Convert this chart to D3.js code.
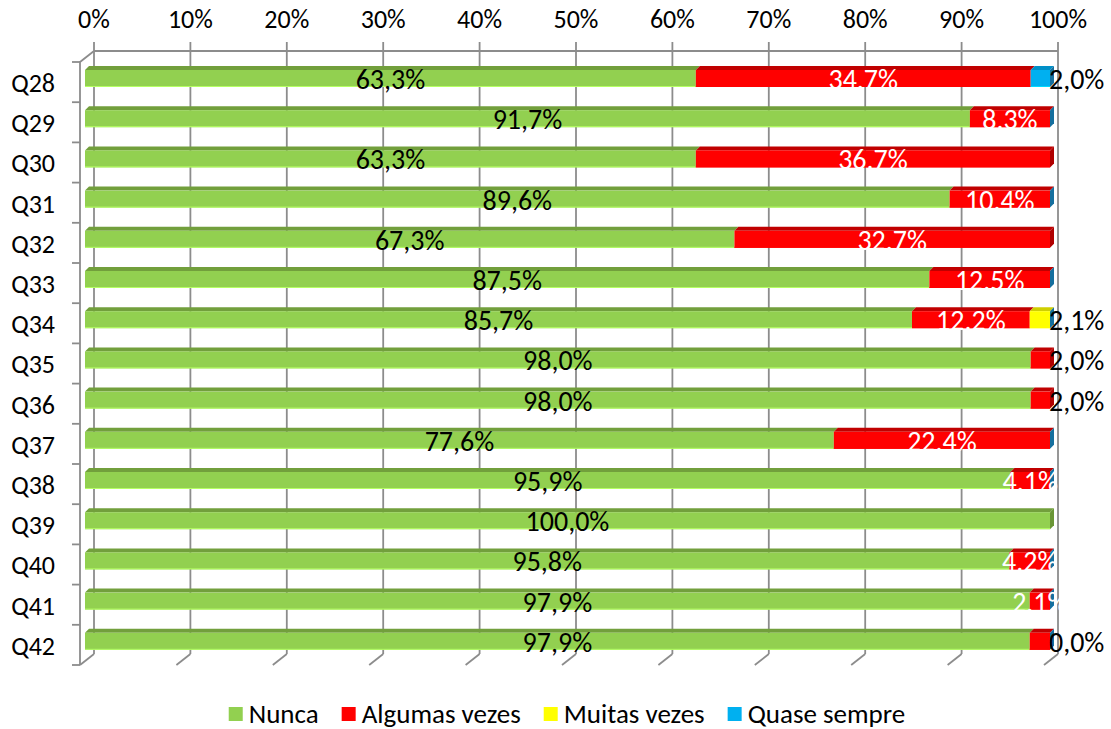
<!DOCTYPE html>
<html>
<head>
<meta charset="utf-8">
<script src="https://cdn.jsdelivr.net/npm/d3@7"></script>
<style>
  body { margin: 0; background: #fff; }
  text { font-family: Carlito, Calibri, Lato, sans-serif; }
</style>
</head>
<body>
<div id="chart"></div>
<script>
// data (percent of answers)
let categories = ["Q28", "Q29", "Q30", "Q31", "Q32", "Q33", "Q34", "Q35", "Q36", "Q37", "Q38", "Q39", "Q40", "Q41", "Q42"];
let seriesNames = ["Nunca", "Algumas vezes", "Muitas vezes", "Quase sempre"];
let nunca   = [63.3, 91.7, 63.3, 89.6, 67.3, 87.5, 85.7, 98.0, 98.0, 77.6, 95.9, 100.0, 95.8, 97.9, 97.9];
let algumas = [34.7, 8.3, 36.7, 10.4, 32.7, 12.5, 12.2, 2.0, 2.0, 22.4, 4.1, null, 4.2, 2.1, 2.1];
let muitas  = [null, null, null, null, null, null, 2.1, null, null, null, null, null, null, null, null];
let quase   = [2.0, 0, null, 0, null, 0, 0, null, null, 0, 0, null, 0, 0, 0];
let tickValues = [0, 10, 20, 30, 40, 50, 60, 70, 80, 90, 100];
// labels that Excel put beside the bar end, and the one it left out
let outsideLabels = [["Q28", 3], ["Q34", 2], ["Q35", 1], ["Q36", 1], ["Q42", 3]];
let hiddenLabels = [["Q42", 1]];

let svgWidth = 1111;
let svgHeight = 729;

let colors = ["#92D050", "#FF0000", "#FFFF00", "#00B0F0"];
let topColors = ["#729F3C", "#C00000", "#CFCF00", "#0090C8"];
let sideColors = ["#6A9636", "#B00000", "#BFBF00", "#156F9E"];
let labelColors = ["#000", "#fff", "#000", "#000"];

let depth = { dx: 14, dy: 11 };   // back wall offset
let barDepth = { dx: 4, dy: 4 };

let svg = d3.select("#chart")
    .append("svg")
    .attr("width", svgWidth)
    .attr("height", svgHeight);

// front plane scale; back wall is shifted by depth
let xScale = d3.scaleLinear().domain([0, 100]).range([80, 1044]);
// bar front faces sit a little inside the box
let xBar = d3.scaleLinear().domain([0, 100]).range([85, 1050]);
let yScale = d3.scaleBand().domain(categories).range([62, 665]);

let fmt = v => d3.format(".1f")(v).replace(".", ",") + "%";

// ---- walls and gridlines
let grid = svg.append("g")
    .attr("stroke", "#8c8c8c")
    .attr("stroke-width", 1.8)
    .attr("fill", "none");

let backTop = yScale.range()[0] - depth.dy;
let backBottom = yScale.range()[1] - depth.dy;

grid.append("line")
    .attr("x1", xScale(0) + depth.dx).attr("x2", xScale(100) + depth.dx)
    .attr("y1", backTop).attr("y2", backTop);

tickValues.forEach(t => {
    let xb = xScale(t) + depth.dx;
    grid.append("line")
        .attr("x1", xb).attr("x2", xb)
        .attr("y1", backTop - 9).attr("y2", backBottom);
    grid.append("line")
        .attr("x1", xb).attr("x2", xScale(t))
        .attr("y1", backBottom).attr("y2", yScale.range()[1]);
});

// left axis with its top corner
grid.append("path")
    .attr("d", `M${xScale(0) + depth.dx},${backTop} L${xScale(0)},${yScale.range()[0]} L${xScale(0)},${yScale.range()[1]}`);

let boundaries = categories.map(c => yScale(c)).concat([yScale.range()[1]]);
boundaries.forEach(y => {
    grid.append("line")
        .attr("x1", xScale(0) - 8).attr("x2", xScale(0))
        .attr("y1", y).attr("y2", y);
});

// ---- axis labels
svg.append("g").selectAll("text")
    .data(tickValues)
    .enter()
    .append("text")
    .attr("x", d => xScale(d) + depth.dx)
    .attr("y", 28)
    .attr("text-anchor", "middle")
    .attr("font-size", 26)
    .attr("fill", "#000")
    .text(d => d + "%");

svg.append("g").selectAll("text")
    .data(categories)
    .enter()
    .append("text")
    .attr("x", 55)
    .attr("y", d => yScale(d) + 30)
    .attr("text-anchor", "end")
    .attr("font-size", 26)
    .attr("fill", "#000")
    .text(d => d);

// ---- stacked bars
let allSeries = [nunca, algumas, muitas, quase];
let rows = categories.map((c, i) => {
    let start = 0;
    let segs = [];
    allSeries.forEach((s, k) => {
        let v = s[i];
        if (v === null) return;
        segs.push({ cat: c, k: k, v: v, x0: start, x1: start + v });
        start += v;
    });
    return { cat: c, segs: segs };
});

let barH = 17;
let bars = svg.append("g");

rows.forEach(row => {
    let yTop = yScale(row.cat) + 8;
    let g = bars.append("g");
    row.segs.forEach(s => {
        let a = xBar(s.x0), b = xBar(s.x1);
        if (s.v > 0) {
            g.append("path")
                .attr("d", `M${a},${yTop} L${a + barDepth.dx},${yTop - barDepth.dy} L${b + barDepth.dx},${yTop - barDepth.dy} L${b},${yTop} Z`)
                .attr("fill", topColors[s.k]);
            g.append("rect")
                .attr("x", a)
                .attr("y", yTop)
                .attr("width", b - a)
                .attr("height", barH)
                .attr("fill", colors[s.k]);
            g.append("line")
                .attr("x1", a).attr("x2", b)
                .attr("y1", yTop + barH - 0.5).attr("y2", yTop + barH - 0.5)
                .attr("stroke", d3.color(colors[s.k]).brighter(0.6))
                .attr("stroke-width", 1);
        }
    });
    // side face of the last segment (a zero value still shows its side)
    let last = row.segs[row.segs.length - 1];
    let e = xBar(last.x1);
    g.append("path")
        .attr("d", `M${e},${yTop} L${e + barDepth.dx},${yTop - barDepth.dy} L${e + barDepth.dx},${yTop + barH - barDepth.dy} L${e},${yTop + barH} Z`)
        .attr("fill", sideColors[last.k]);
});

// ---- data labels
let isIn = (list, c, k) => list.some(p => p[0] === c && p[1] === k);
let labels = [];
rows.forEach(row => {
    row.segs.forEach(s => {
        if (isIn(hiddenLabels, s.cat, s.k)) return;
        if (isIn(outsideLabels, s.cat, s.k)) {
            labels.push({ cat: s.cat, text: fmt(s.v), x: xBar(100) - 1, anchor: "start", color: "#000" });
        } else if ((s.k === 0 || s.k === 1) && s.v > 0) {
            labels.push({ cat: s.cat, text: fmt(s.v), x: xBar((s.x0 + s.x1) / 2), anchor: "middle", color: labelColors[s.k] });
        }
    });
});

svg.append("g").selectAll("text")
    .data(labels)
    .enter()
    .append("text")
    .attr("x", d => d.x)
    .attr("y", d => yScale(d.cat) + 27)
    .attr("text-anchor", d => d.anchor)
    .attr("font-size", 28)
    .attr("fill", d => d.color)
    .text(d => d.text);

// ---- legend
let legend = svg.append("g");
let lx = 0;
seriesNames.forEach((name, k) => {
    let it = legend.append("g").attr("transform", `translate(${lx},0)`);
    it.append("rect")
        .attr("x", 0).attr("y", -7)
        .attr("width", 14).attr("height", 14)
        .attr("fill", colors[k]);
    let t = it.append("text")
        .attr("x", 20).attr("y", 9)
        .attr("font-size", 27)
        .attr("fill", "#000")
        .text(name);
    lx += 20 + t.node().getComputedTextLength() + 23;
});
let legendWidth = lx - 23;
legend.attr("transform", `translate(${567 - legendWidth / 2}, 714)`);
</script>
</body>
</html>
